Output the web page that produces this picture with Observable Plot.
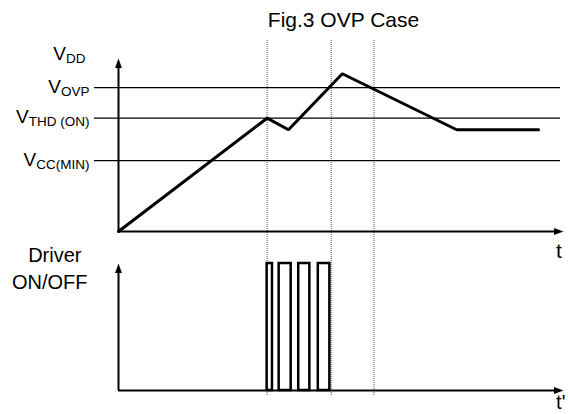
<!DOCTYPE html>
<html>
<head>
<meta charset="utf-8">
<script src="https://cdn.jsdelivr.net/npm/d3@7"></script>
<script src="https://cdn.jsdelivr.net/npm/@observablehq/plot@0.6"></script>
<style>
  html, body { margin: 0; padding: 0; background: white; }
  #chart svg { display: block; }
</style>
</head>
<body>
<div id="chart"></div>
<script>
// ---- data (time in arbitrary units 0..100, levels in arbitrary units) ----
const title = "Fig.3 OVP Case";
const vddTime = [0, 33.4, 38.2, 50.3, 76.0, 94.4];
const vddLevel = [0, 6.55, 5.88, 9.12, 5.88, 5.88];
const thresholdNames = ["OVP", "THD (ON)", "CC(MIN)"];
const thresholdValues = [8.32, 6.55, 4.10];
const markerTimes = [33.4, 47.8, 57.4];
const pulseOn = [33.4, 36.1, 40.5, 44.9];
const pulseOff = [34.6, 38.8, 43.0, 47.5];
const driverLabels = ["Driver", "ON/OFF"];
const timeLabels = ["t", "t'"];

const font = "'Liberation Sans', Arial, sans-serif";

// filled arrowheads with tip at the anchor point
const arrowUp = { draw(ctx) { ctx.moveTo(0, 0); ctx.lineTo(3.4, 9.5); ctx.lineTo(-3.4, 9.5); ctx.closePath(); } };
const arrowRight = { draw(ctx) { ctx.moveTo(0, 0); ctx.lineTo(-9.5, 3.4); ctx.lineTo(-9.5, -3.4); ctx.closePath(); } };

const vdd = vddTime.map((t, i) => ({ t, v: vddLevel[i] }));
const thresholds = thresholdNames.map((n, i) => ({ n, v: thresholdValues[i] }));
const pulses = pulseOn.map((s, i) => ({ s, e: pulseOff[i] }));

const topPlot = Plot.plot({
  width: 568, height: 240,
  marginLeft: 118, marginRight: 5, marginTop: 58, marginBottom: 9,
  x: { domain: [0, 100], axis: null },
  y: { domain: [0, 10], axis: null },
  style: { fontFamily: font, background: "transparent", color: "black", overflow: "visible" },
  marks: [
    Plot.ruleX(markerTimes, { stroke: "#555", strokeWidth: 1, strokeDasharray: "1,1", insetTop: -18, insetBottom: -9 }),
    Plot.ruleY(thresholdValues, { stroke: "black", strokeWidth: 1.2, insetLeft: -24, insetRight: 3 }),
    Plot.ruleY([0], { stroke: "black", strokeWidth: 2, insetRight: 6 }),
    Plot.ruleX([0], { stroke: "black", strokeWidth: 2, insetTop: 6 }),
    Plot.dot([{ x: 100, y: 0 }], { x: "x", y: "y", symbol: arrowRight, fill: "black", stroke: "none" }),
    Plot.dot([{ x: 0, y: 10 }], { x: "x", y: "y", symbol: arrowUp, fill: "black", stroke: "none" }),
    Plot.line(vdd, { x: "t", y: "v", stroke: "black", strokeWidth: 3, strokeLinejoin: "miter" }),
    Plot.text(thresholds, { y: "v", text: "n", frameAnchor: "left", textAnchor: "end", lineAnchor: "middle", dx: -29, dy: -1, fontSize: 19 }),
    Plot.text([{ n: "DD", v: 10 }], { y: "v", text: "n", frameAnchor: "left", textAnchor: "end", lineAnchor: "middle", dx: -33, dy: -5, fontSize: 19 }),
    Plot.text([title], { frameAnchor: "top", lineAnchor: "middle", dx: 2.5, dy: -38.5, fontSize: 21 }),
    Plot.text([timeLabels[0]], { frameAnchor: "bottom-right", textAnchor: "start", lineAnchor: "middle", dx: -7.4, dy: 19.3, fontSize: 21 })
  ]
});

const subNames = new Set(["DD", ...thresholdNames]);
d3.select(topPlot).selectAll("text").each(function () {
  const s = this.textContent;
  if (!subNames.has(s)) return;
  const t = d3.select(this);
  t.text(null);
  t.append("tspan").text("V");
  t.append("tspan").text(s).attr("font-size", 13.5).attr("dy", 3);
});

const bottomPlot = Plot.plot({
  width: 568, height: 174,
  marginLeft: 118, marginRight: 5, marginTop: 23, marginBottom: 24,
  x: { domain: [0, 100], axis: null },
  y: { domain: [0, 1], axis: null },
  style: { fontFamily: font, background: "transparent", color: "black", overflow: "visible" },
  marks: [
    Plot.ruleX(markerTimes, { stroke: "#555", strokeWidth: 1, strokeDasharray: "1,1", insetTop: -23, insetBottom: -6 }),
    Plot.ruleY([0], { stroke: "black", strokeWidth: 2, insetRight: 6 }),
    Plot.ruleX([0], { stroke: "black", strokeWidth: 2, insetTop: 6 }),
    Plot.dot([{ x: 100, y: 0 }], { x: "x", y: "y", symbol: arrowRight, fill: "black", stroke: "none" }),
    Plot.dot([{ x: 0, y: 1 }], { x: "x", y: "y", symbol: arrowUp, fill: "black", stroke: "none" }),
    Plot.rect(pulses, { x1: "s", x2: "e", y1: 0, y2: 1, fill: "none", stroke: "black", strokeWidth: 2.5 }),
    Plot.text([driverLabels[0]], { frameAnchor: "top-left", textAnchor: "end", lineAnchor: "middle", dx: -37, dy: -8, fontSize: 20 }),
    Plot.text([driverLabels[1]], { frameAnchor: "top-left", textAnchor: "end", lineAnchor: "middle", dx: -31, dy: 19, fontSize: 20 }),
    Plot.text([timeLabels[1]], { frameAnchor: "bottom-right", textAnchor: "start", lineAnchor: "middle", dx: -7.4, dy: 12.5, fontSize: 20 })
  ]
});

document.getElementById("chart").append(topPlot, bottomPlot);
</script>
</body>
</html>
